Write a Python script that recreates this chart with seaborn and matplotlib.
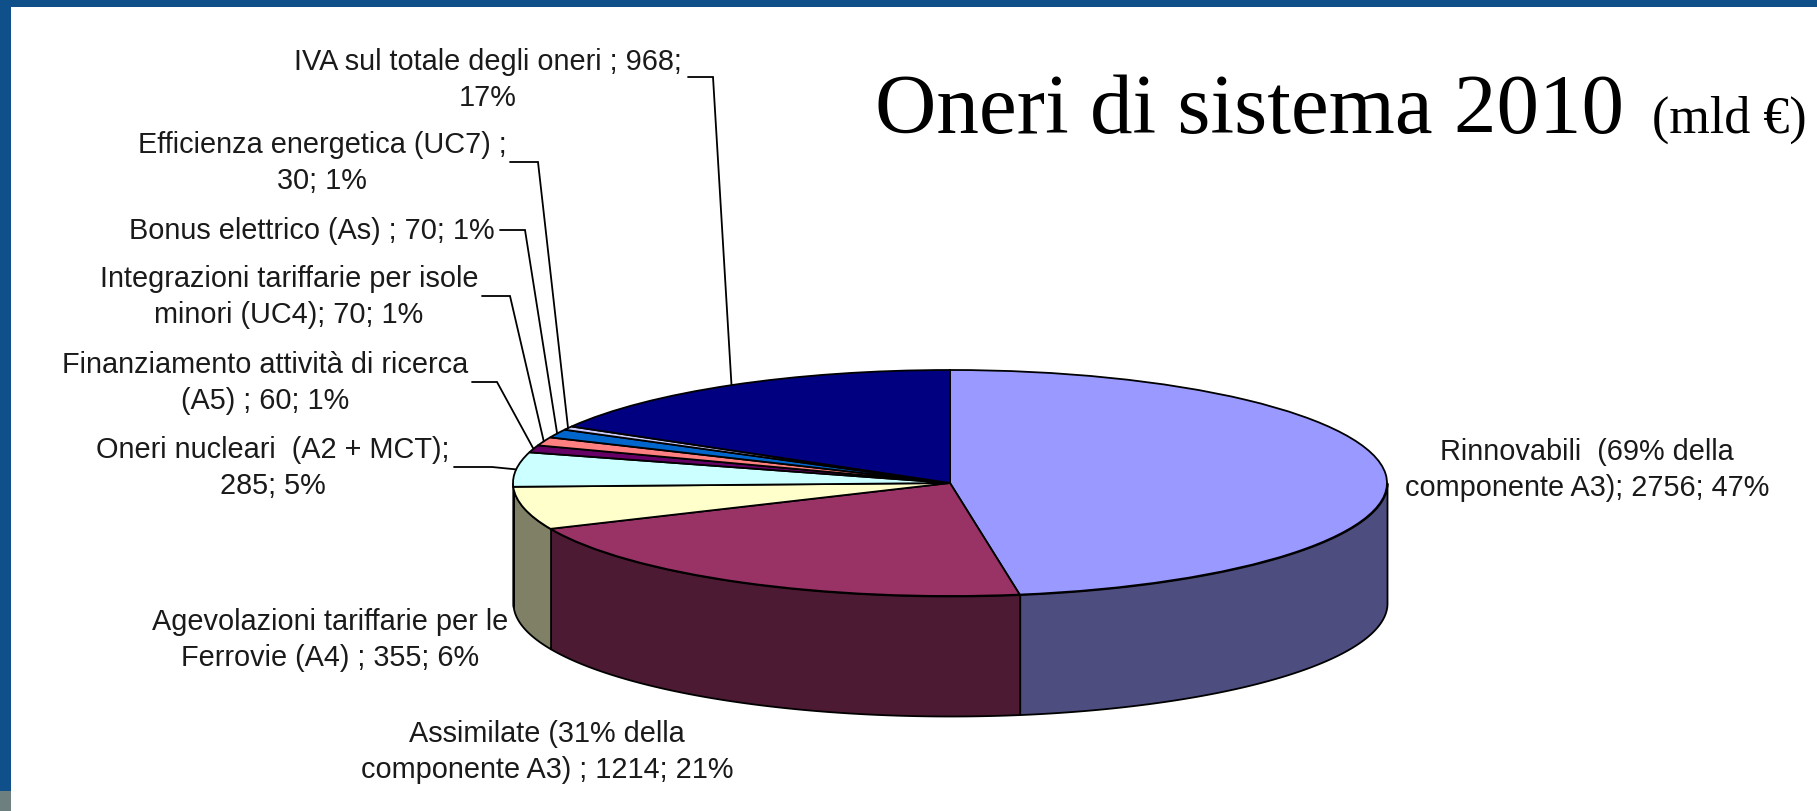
import numpy as np
import matplotlib
matplotlib.use("Agg")
import matplotlib.pyplot as plt
from matplotlib.patches import Rectangle
import seaborn as sns

categories = ["Rinnovabili", "Assimilate", "Agevolazioni Ferrovie", "Oneri nucleari",
              "Finanziamento ricerca", "Isole minori", "Bonus elettrico",
              "Efficienza energetica", "IVA"]
values = [2756, 1214, 355, 285, 60, 70, 70, 30, 968]
colors = ["#9999FF", "#993366", "#FFFFCC", "#CCFFFF", "#660066",
          "#FF8080", "#0066CC", "#CCCCFF", "#000080"]
labels = ["Rinnovabili  (69% della\ncomponente A3); 2756; 47%",
          "Assimilate (31% della\ncomponente A3) ; 1214; 21%",
          "Agevolazioni tariffarie per le\nFerrovie (A4) ; 355; 6%",
          "Oneri nucleari  (A2 + MCT);\n285; 5%",
          "Finanziamento attività di ricerca\n(A5) ; 60; 1%",
          "Integrazioni tariffarie per isole\nminori (UC4); 70; 1%",
          "Bonus elettrico (As) ; 70; 1%",
          "Efficienza energetica (UC7) ;\n30; 1%",
          "IVA sul totale degli oneri ; 968;\n17%"]
label_xy = [(1587, 470), (547, 752), (330, 640), (273, 468), (265, 383),
            (289, 297), (312, 231), (322, 163), (488, 80)]
leader_elbows = [None, None, None, (454, 492, 468), (472, 497, 383), (482, 510, 297),
                 (500, 525, 231), (510, 538, 163), (688, 713, 78)]
title = "Oneri di sistema 2010"
subtitle = "(mld €)"

sns.set_theme(style="white")
palette = sns.color_palette(colors)

W, H = 1817, 812
CX, CY, RX, RY, DEPTH = 950, 484, 437, 113, 120
fig = plt.figure(figsize=(W / 100, H / 100), dpi=100, facecolor="white")
ax = fig.add_axes([0, 0, 1, 1])


def px(x, y):
    return (x - CX) / RX, (CY - y) / RY


vals = np.array(values, dtype=float)
edges = np.concatenate([[0], np.cumsum(vals)]) / vals.sum() * 2 * np.pi
d = DEPTH / RY

# side walls (front half of the disc only)
for lo, hi, c in zip(edges[:-1], edges[1:], palette):
    a, b = max(lo, np.pi / 2), min(hi, 3 * np.pi / 2)
    if b <= a:
        continue
    t = np.linspace(a, b, 200)
    ax.fill_between(np.sin(t), np.cos(t), np.cos(t) - d,
                    facecolor=np.array(c) * 0.5, edgecolor="black", linewidth=1.3, zorder=1)

ax.pie(vals, colors=palette, startangle=90, counterclock=False, radius=1,
       wedgeprops=dict(edgecolor="black", linewidth=1.3))
for w in ax.patches:
    w.set_zorder(2)

ax.set_aspect("auto")
x0, y0 = px(0, H)
x1, y1 = px(W, 0)
ax.set_xlim(x0, x1)
ax.set_ylim(y0, y1)
ax.axis("off")

font = ["Liberation Sans", "DejaVu Sans"]
for lab, (lx, ly) in zip(labels, label_xy):
    ax.text(*px(lx, ly), lab, ha="center", va="center", ma="center", family=font,
            fontsize=20.8, color="#1a1a1a", linespacing=1.39, zorder=5)

# leader lines end on the rim at the middle of each slice
mids = (edges[:-1] + edges[1:]) / 2
for e, m in zip(leader_elbows, mids):
    if e is None:
        continue
    xa, ya = px(e[0], e[2])
    xb, yb = px(e[1], e[2])
    ax.plot([xa, xb, np.sin(m)], [ya, yb, np.cos(m)], color="black", lw=1.3,
            solid_joinstyle="miter", zorder=4)

serif = ["Liberation Serif", "DejaVu Serif"]
ax.text(*px(875, 133), title, family=serif, fontsize=61.2, ha="left", va="baseline", color="black")
ax.text(*px(1652, 133), subtitle, family=serif, fontsize=37.5, ha="left", va="baseline", color="black")

# slide frame
frame = "#0F4F8A"
fig.add_artist(Rectangle((0, 1 - 8 / H), 1, 8 / H, transform=fig.transFigure, color=frame, lw=0))
fig.add_artist(Rectangle((0, 20 / H), 11 / W, 1 - 20 / H, transform=fig.transFigure, color=frame, lw=0))
fig.add_artist(Rectangle((0, 0), 11 / W, 20 / H, transform=fig.transFigure, color="#6E7F80", lw=0))

fig.savefig("out.png", dpi=100, facecolor="white")
